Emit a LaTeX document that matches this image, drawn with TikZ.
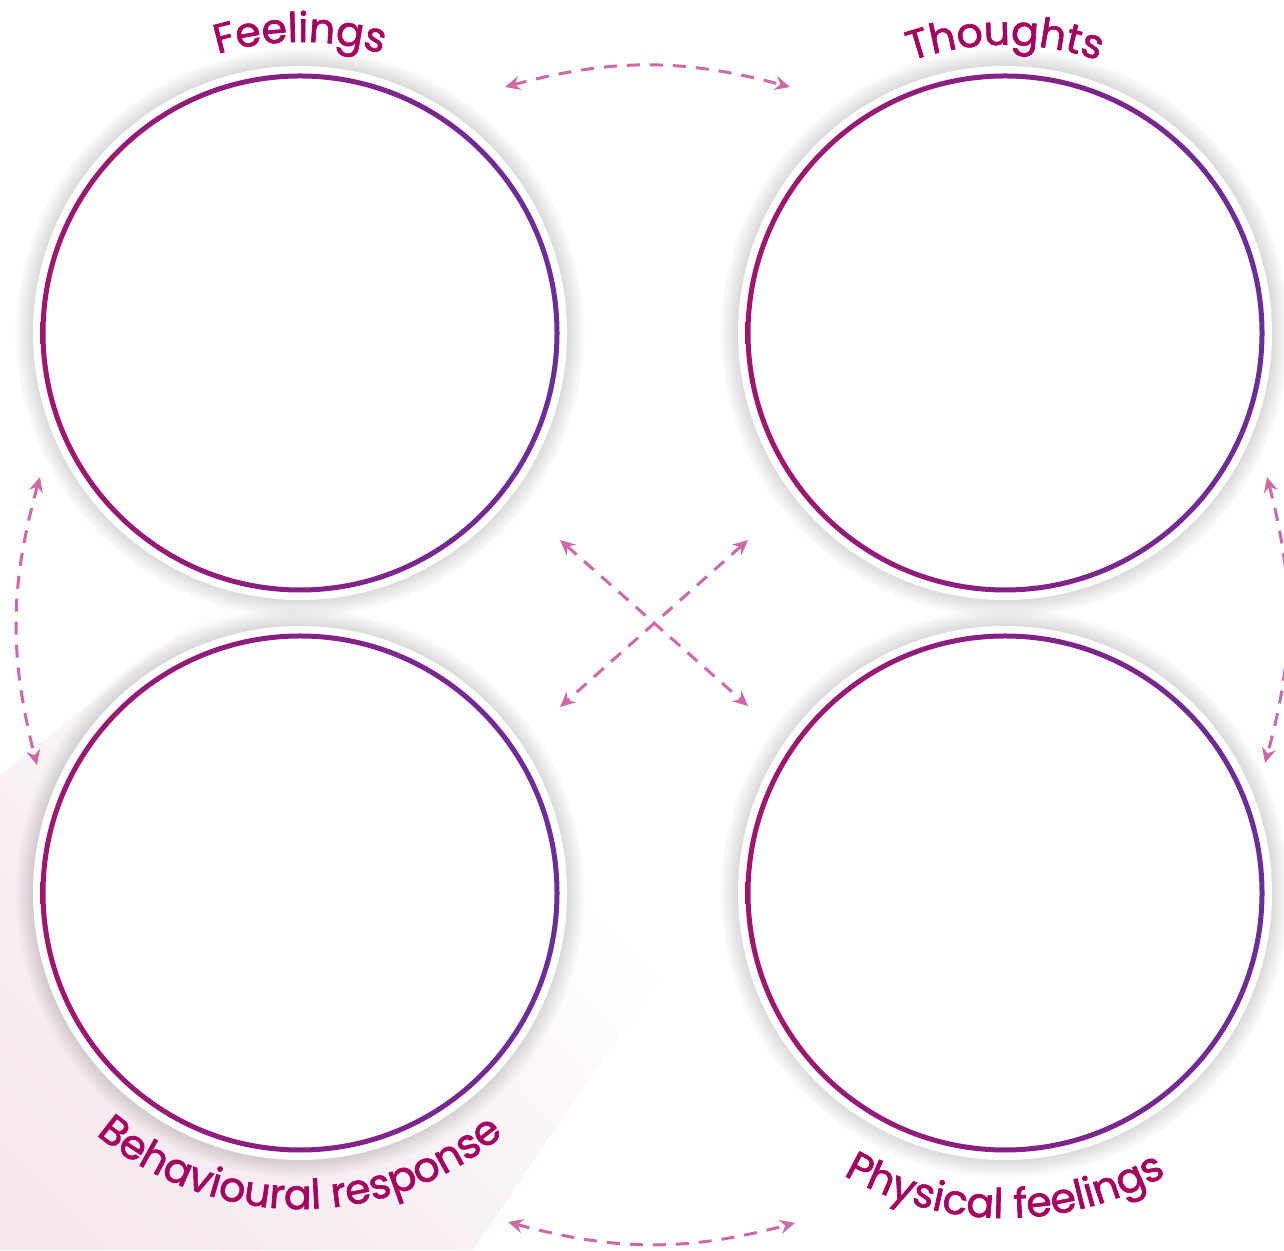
\documentclass[tikz,border=0pt]{standalone}
\usepackage{fontspec}
\setmainfont{Poppins}
\newfontfamily\lblfont{Poppins}[FakeBold=1.6]
\usetikzlibrary{decorations.text,arrows.meta,calc}
\definecolor{txt}{RGB}{168,0,96}
\definecolor{ringL}{RGB}{162,20,110}
\definecolor{ringR}{RGB}{108,44,156}
\definecolor{arr}{RGB}{208,104,166}
\definecolor{pinkA}{RGB}{240,223,231}
\definecolor{pinkB}{RGB}{247,237,242}
\pgfdeclareverticalshading{pinkfade}{100bp}{color(0bp)=(pinkA); color(30bp)=(pinkB); color(58bp)=(white); color(100bp)=(white)}
\begin{document}
\begin{tikzpicture}[x=1pt,y=1pt,
  arrowline/.style={draw=arr, line width=3pt, dash pattern=on 13pt off 10pt, {Stealth[length=15pt,width=14pt,inset=5pt]}-{Stealth[length=15pt,width=14pt,inset=5pt]}},
  curvetext/.style={decorate, decoration={text along path, text align=center, text color=txt}}
  ]
\useasboundingbox (0,0) rectangle (1284,1250);
\fill[white] (0,0) rectangle (1284,1250);
\shade[shading=pinkfade, shading angle=-45] (0,475) -- (400,790) -- (760,420) -- (473,0) -- (0,0) -- cycle;
% centres
\coordinate (fe) at (300,917);
\coordinate (th) at (1005,917);
\coordinate (be) at (300,357);
\coordinate (ph) at (1005,357);
% shadows
\foreach \c in {fe,th,be,ph}{
  \foreach \k in {0,...,18}{
    \fill[black,opacity=0.009] (\c) circle[radius=267+\k];
  }
}
% disks and rings
\foreach \c in {fe,th,be,ph}{
  \fill[white] (\c) circle[radius=267];
  \shade[left color=ringL, right color=ringR, even odd rule] (\c) circle[radius=259.5] (\c) circle[radius=254.5];
}
% arrow endpoints
\coordinate (a1) at (505,1163);
\coordinate (a2) at (790,1163);
\coordinate (b1) at (40,773);
\coordinate (b2) at (37,485);
\coordinate (c1) at (1267,773);
\coordinate (c2) at (1265,487);
\coordinate (d1) at (508,28);
\coordinate (d2) at (795,27);
\coordinate (x1) at (560,710);
\coordinate (x2) at (748,544);
\coordinate (y1) at (748,710);
\coordinate (y2) at (560,543);
\draw[arrowline] (a1) to[bend left=15] (a2);
\draw[arrowline] (b1) to[bend right=15] (b2);
\draw[arrowline] (c1) to[bend left=15] (c2);
\draw[arrowline] (d1) to[bend right=15] (d2);
\draw[arrowline] (x1) -- (x2);
\draw[arrowline] (y1) -- (y2);
% curved labels
\path[curvetext, decoration={text={|\lblfont\fontsize{41}{43}\selectfont|Feelings}}]
  ($(fe)+(150:291)$) arc[start angle=150, end angle=30, radius=291];
\path[curvetext, decoration={text={|\lblfont\fontsize{41}{43}\selectfont|Thoughts}}]
  ($(th)+(150:288)$) arc[start angle=150, end angle=30, radius=288];
\path[curvetext, decoration={text={|\lblfont\fontsize{41}{43}\selectfont|Behavioural response}}]
  ($(be)+(200:316)$) arc[start angle=200, end angle=340, radius=316];
\path[curvetext, decoration={text={|\lblfont\fontsize{41}{43}\selectfont|Physical feelings}}]
  ($(ph)+(200:325)$) arc[start angle=200, end angle=340, radius=325];
\end{tikzpicture}
\end{document}
